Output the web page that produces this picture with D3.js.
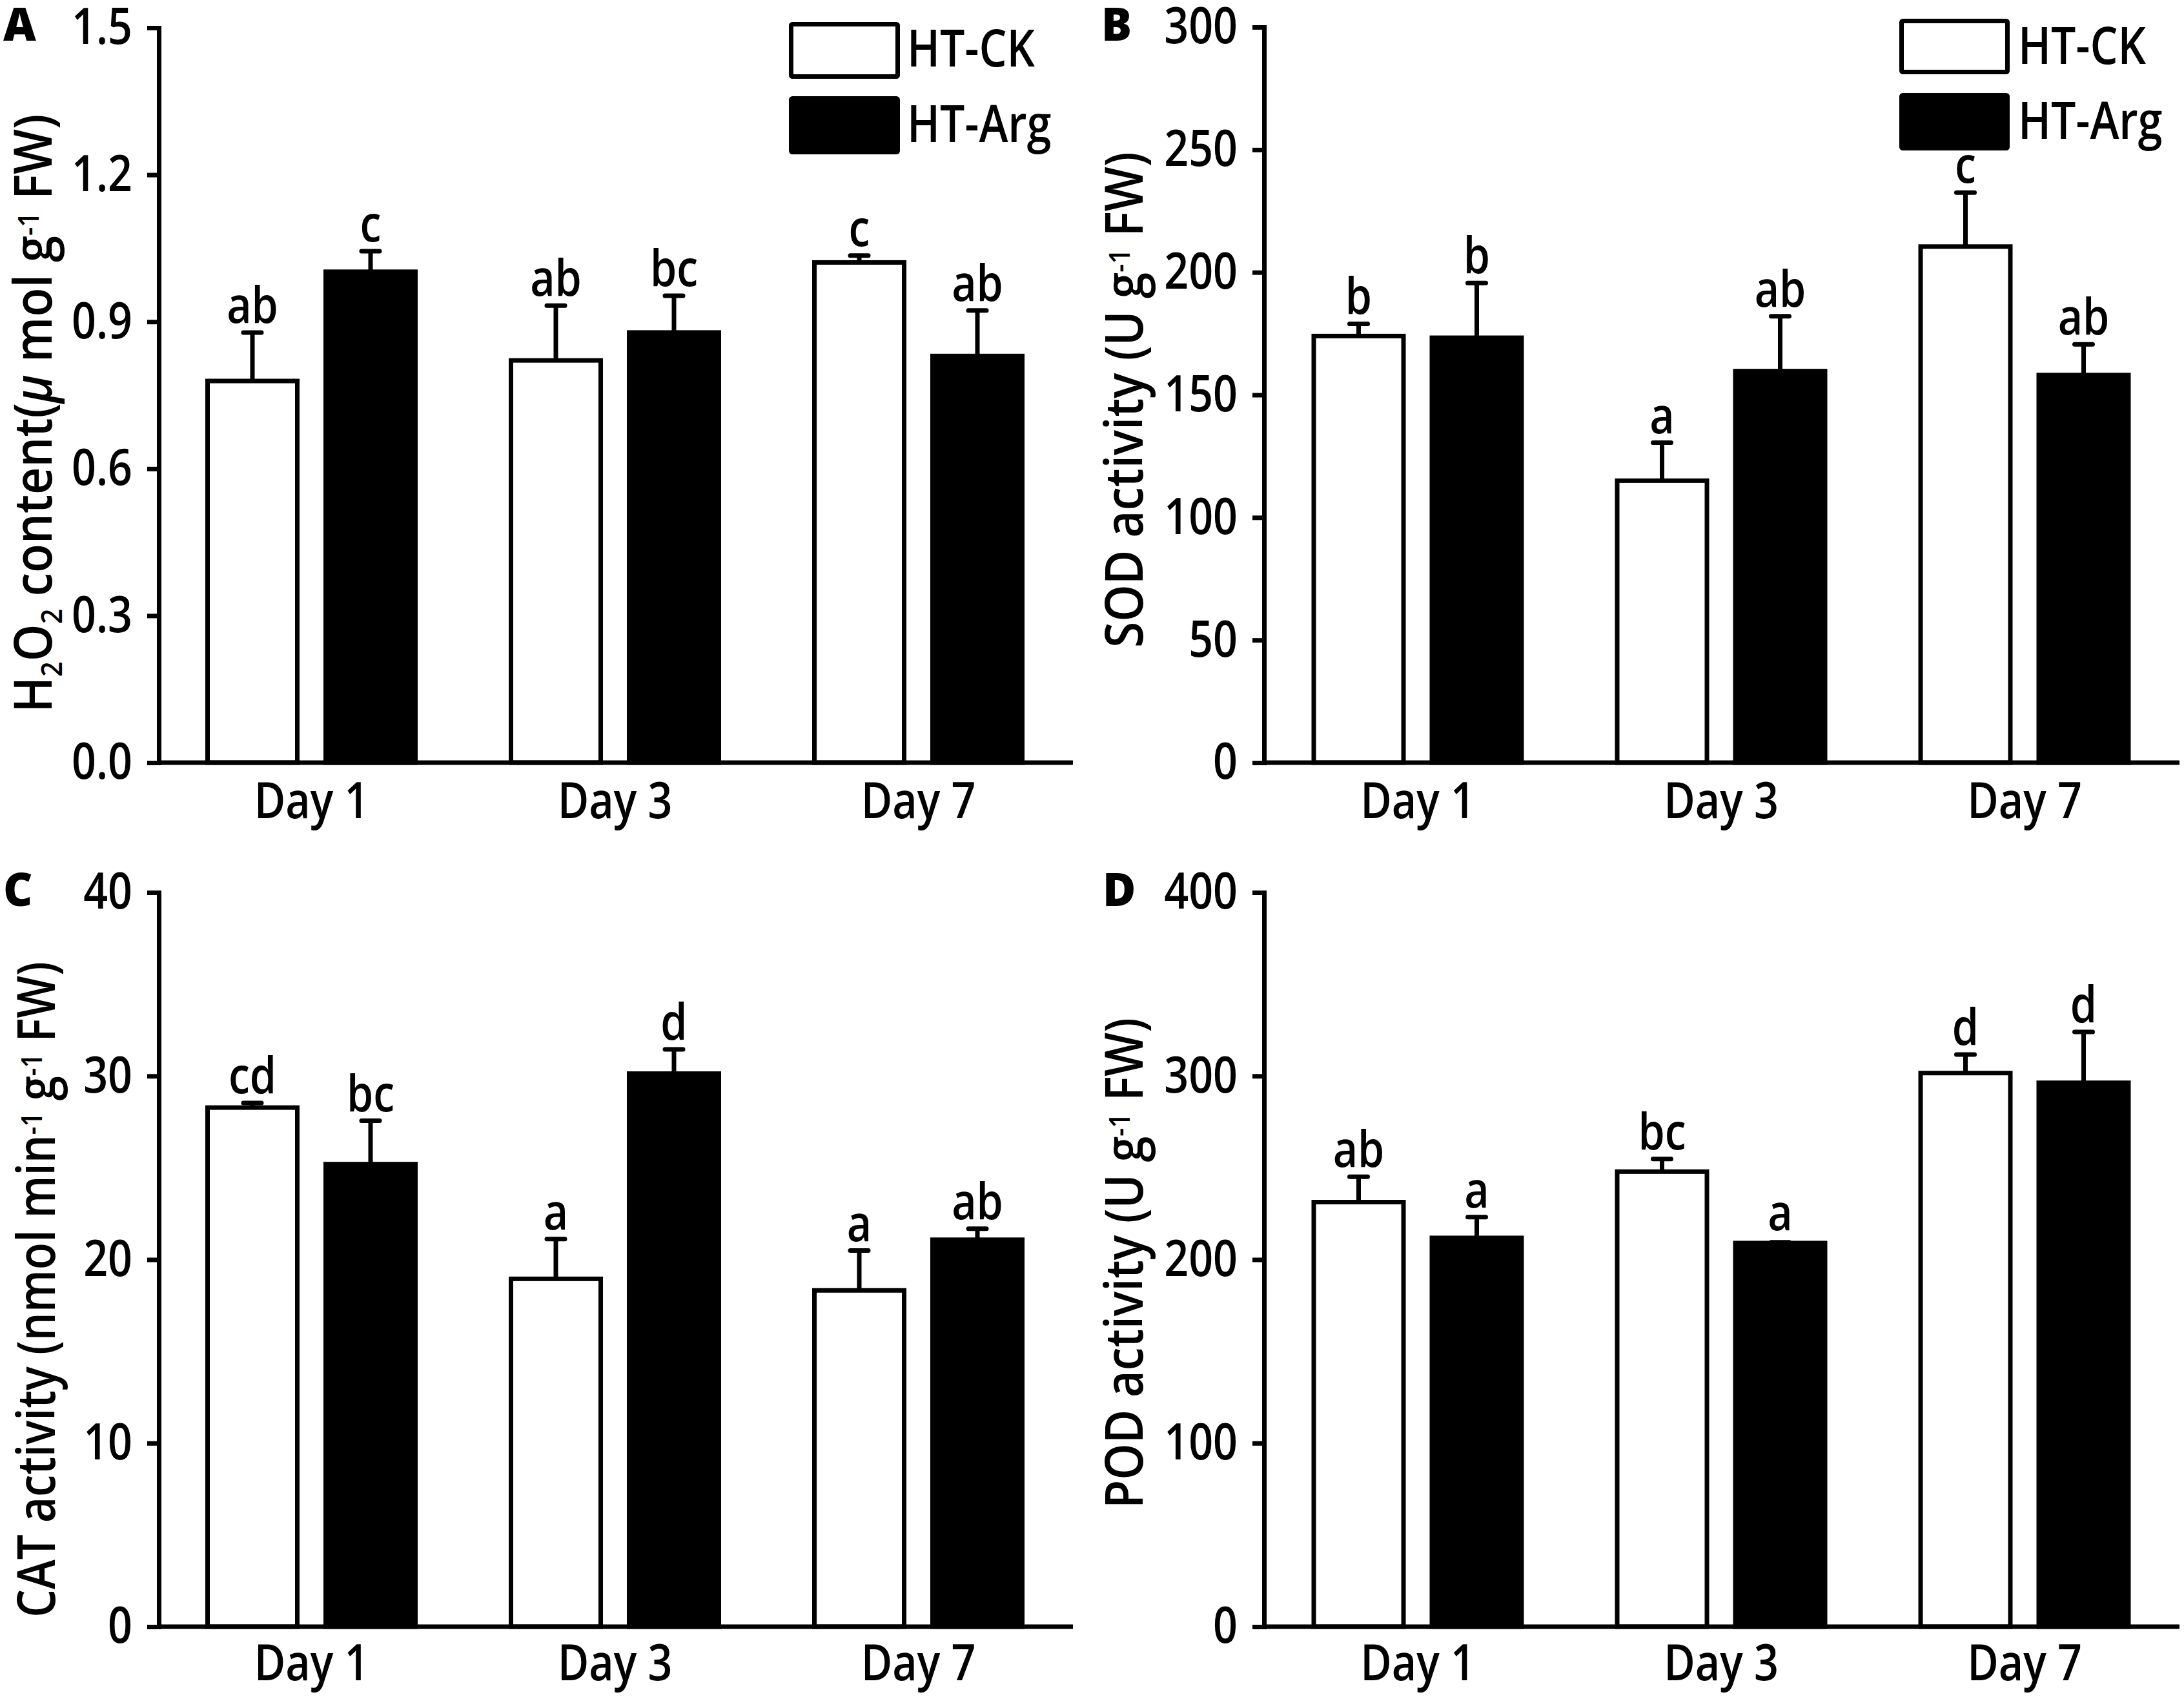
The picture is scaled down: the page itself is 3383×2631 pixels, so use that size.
<!DOCTYPE html>
<html><head><meta charset="utf-8">
<script src="https://cdn.jsdelivr.net/npm/d3@7"></script>
<style>
body{margin:0;background:#fff}
text{font-family:"Open Sans","Noto Sans",sans-serif;fill:#000;font-weight:600}
</style>
</head><body>
<svg id="chart" width="3383" height="2631"></svg>
<script>
// ---------- data ----------
const days = ["Day 1", "Day 3", "Day 7"];
const series = ["HT-CK", "HT-Arg"];

const h2o2CK = [0.779, 0.821, 1.021];
const h2o2CKErr = [0.099, 0.112, 0.014];
const h2o2Arg = [1.002, 0.878, 0.830];
const h2o2ArgErr = [0.042, 0.075, 0.093];
const h2o2CKLetters = ["ab", "ab", "c"];
const h2o2ArgLetters = ["c", "bc", "ab"];
const h2o2Ticks = [0, 0.3, 0.6, 0.9, 1.2, 1.5];
const h2o2TickLabels = ["0.0", "0.3", "0.6", "0.9", "1.2", "1.5"];

const sodCK = [174.0, 115.0, 210.5];
const sodCKErr = [5.0, 15.5, 22.0];
const sodArg = [173.3, 159.7, 158.1];
const sodArgErr = [22.3, 22.4, 12.5];
const sodCKLetters = ["b", "a", "c"];
const sodArgLetters = ["b", "ab", "ab"];
const sodTicks = [0, 50, 100, 150, 200, 250, 300];
const sodTickLabels = ["0", "50", "100", "150", "200", "250", "300"];

const catCK = [28.28, 18.95, 18.32];
const catCKErr = [0.25, 2.17, 2.17];
const catArg = [25.2, 30.13, 21.08];
const catArgErr = [2.36, 1.32, 0.6];
const catCKLetters = ["cd", "a", "a"];
const catArgLetters = ["bc", "d", "ab"];
const catTicks = [0, 10, 20, 30, 40];
const catTickLabels = ["0", "10", "20", "30", "40"];

const podCK = [231.3, 247.9, 301.6];
const podCKErr = [13.8, 6.9, 10.1];
const podArg = [211.8, 209.0, 296.3];
const podArgErr = [11.3, 0.4, 27.7];
const podCKLetters = ["ab", "bc", "d"];
const podArgLetters = ["a", "a", "d"];
const podTicks = [0, 100, 200, 300, 400];
const podTickLabels = ["0", "100", "200", "300", "400"];

const titleA = [["H", ""], ["2", "sub"], ["O", ""], ["2", "sub"], [" content(", ""], ["μ", "it"], [" mol g", ""], ["-1", "sup"], [" FW)", ""]];
const titleB = [["SOD activity (U g", ""], ["-1", "sup"], [" FW)", ""]];
const titleC = [["CAT activity (nmol min", ""], ["-1", "sup"], [" g", ""], ["-1", "sup"], [" FW)", ""]];
const titleD = [["POD activity (U g", ""], ["-1", "sup"], [" FW)", ""]];

// ---------- panels (data + layout) ----------
const panels = [
  {label: "A", ck: h2o2CK, ckErr: h2o2CKErr, arg: h2o2Arg, argErr: h2o2ArgErr, ckLab: h2o2CKLetters, argLab: h2o2ArgLetters,
   domain: [0, 1.5], ticks: h2o2Ticks, tickLabels: h2o2TickLabels, title: titleA,
   L: {x0: 246, x1: 1662, yTop: 43, yBot: 1181, band0: 247.5, xPad: 31,
       lab: [5, 63], tt: [80, 640, 927],
       leg: {x: 1222, w: 172, yW: 34, hW: 88, yB: 149, hB: 90, tx: 1405, b1: 103, b2: 220}}},
  {label: "B", ck: sodCK, ckErr: sodCKErr, arg: sodArg, argErr: sodArgErr, ckLab: sodCKLetters, argLab: sodArgLetters,
   domain: [0, 300], ticks: sodTicks, tickLabels: sodTickLabels, title: titleB,
   L: {x0: 1958, x1: 3376, yTop: 42, yBot: 1181, band0: 1961, xPad: 31,
       lab: [1706, 63], tt: [1770, 619, 768],
       leg: {x: 2942, w: 171, yW: 29, hW: 86, yB: 144, hB: 89, tx: 3126, b1: 99, b2: 215}}},
  {label: "C", ck: catCK, ckErr: catCKErr, arg: catArg, argErr: catArgErr, ckLab: catCKLetters, argLab: catArgLetters,
   domain: [0, 40], ticks: catTicks, tickLabels: catTickLabels, title: titleC,
   L: {x0: 246, x1: 1662, yTop: 1382, yBot: 2519, band0: 247.5, xPad: 28,
       lab: [5, 1403], tt: [85, 1997, 1016], leg: null}},
  {label: "D", ck: podCK, ckErr: podCKErr, arg: podArg, argErr: podArgErr, ckLab: podCKLetters, argLab: podArgLetters,
   domain: [0, 400], ticks: podTicks, tickLabels: podTickLabels, title: titleD,
   L: {x0: 1958, x1: 3376, yTop: 1382, yBot: 2519, band0: 1961, xPad: 28,
       lab: [1708, 1403], tt: [1770, 1956, 760], leg: null}}
];

const SX = 0.85;
const FS = 78;
const svg = d3.select("#chart");

function drawPanel(p) {
  const L = p.L;
  const g = svg.append("g");
  const y = d3.scaleLinear().domain(p.domain).range([L.yBot, L.yTop]);
  const x = d3.scaleBand().domain(days).range([L.band0, L.band0 + 1410]).padding(0);
  const xi = d3.scaleBand().domain(series).range([74, 396]).paddingInner(0.2404).paddingOuter(0);

  const rows = [];
  days.forEach((d, i) => {
    rows.push({day: d, s: series[0], v: p.ck[i], e: p.ckErr[i], lab: p.ckLab[i]});
    rows.push({day: d, s: series[1], v: p.arg[i], e: p.argErr[i], lab: p.argLab[i]});
  });
  const cx = r => x(r.day) + xi(r.s) + xi.bandwidth() / 2;

  // error bars
  g.selectAll("line.err").data(rows).join("line").attr("class", "err")
    .attr("x1", cx).attr("x2", cx)
    .attr("y1", r => y(r.v)).attr("y2", r => y(r.v + r.e))
    .attr("stroke", "#000").attr("stroke-width", 7);
  g.selectAll("line.cap").data(rows).join("line").attr("class", "cap")
    .attr("x1", r => cx(r) - 14).attr("x2", r => cx(r) + 14)
    .attr("y1", r => y(r.v + r.e)).attr("y2", r => y(r.v + r.e))
    .attr("stroke", "#000").attr("stroke-width", 7).attr("stroke-linecap", "round");

  // bars
  g.selectAll("rect.bar").data(rows).join("rect").attr("class", "bar")
    .attr("x", r => x(r.day) + xi(r.s)).attr("width", xi.bandwidth())
    .attr("y", r => y(r.v)).attr("height", r => y(0) - y(r.v))
    .attr("fill", r => r.s === "HT-CK" ? "#fff" : "#000")
    .attr("stroke", "#000").attr("stroke-width", 7);

  // significance letters
  g.selectAll("text.sig").data(rows).join("text").attr("class", "sig")
    .attr("transform", r => `translate(${cx(r)},${Math.min(y(r.v + r.e), y(r.v) - 5) - 15}) scale(${SX},1)`)
    .attr("text-anchor", "middle").attr("font-size", FS).text(r => r.lab);

  // y axis
  const ya = d3.axisLeft(y).tickValues(p.ticks).tickFormat((d, i) => p.tickLabels[i])
    .tickSize(18).tickPadding(23).tickSizeOuter(0);
  const yg = g.append("g").attr("transform", `translate(${L.x0},0)`).call(ya);
  yg.attr("font-size", FS).attr("font-family", null);
  yg.select(".domain").attr("stroke-width", 7).attr("stroke-linecap", "square");
  yg.selectAll(".tick line").attr("stroke-width", 7);
  yg.selectAll(".tick text").each(function () {
    const t = d3.select(this);
    const xx = +t.attr("x");
    t.attr("x", 0).attr("transform", `translate(${xx},0) scale(${SX},1)`);
  });

  // x axis line + labels
  g.append("line").attr("x1", L.x0).attr("x2", L.x1).attr("y1", y(0)).attr("y2", y(0))
    .attr("stroke", "#000").attr("stroke-width", 7);
  const xa = d3.axisBottom(x).tickSize(0).tickPadding(L.xPad);
  const xg = g.append("g").attr("transform", `translate(0,${y(0)})`).call(xa);
  xg.select(".domain").remove();
  xg.attr("font-size", FS).attr("font-family", null);
  xg.selectAll(".tick text").attr("transform", `scale(${SX},1)`);

  // y title
  const tt = g.append("text").attr("text-anchor", "middle").attr("font-size", 82);
  let cur = 0;
  p.title.forEach(([s, k]) => {
    const ts = tt.append("tspan").text(s);
    let target = 0;
    if (k === "sub") { target = 16; ts.attr("font-size", 46); }
    else if (k === "sup") { target = -20; ts.attr("font-size", 46); }
    else if (k === "it") { ts.attr("font-style", "italic"); }
    ts.attr("dy", target - cur);
    cur = target;
  });
  const nat = tt.node().getComputedTextLength();
  const sc = L.tt[2] / nat;
  tt.attr("transform", `translate(${L.tt[0]},${L.tt[1]}) rotate(-90) scale(${sc},1)`);

  // panel label
  g.append("text").attr("x", L.lab[0]).attr("y", L.lab[1])
    .attr("font-size", 70).style("font-weight", "800").text(p.label);

  // legend
  if (L.leg) {
    const lg = L.leg;
    const items = [
      {s: series[0], y: lg.yW, h: lg.hW, fill: "#fff", b: lg.b1},
      {s: series[1], y: lg.yB, h: lg.hB, fill: "#000", b: lg.b2}
    ];
    g.selectAll("rect.leg").data(items).join("rect").attr("class", "leg")
      .attr("x", lg.x + 3.5).attr("y", d => d.y + 3.5)
      .attr("width", lg.w - 7).attr("height", d => d.h - 7)
      .attr("rx", 2).attr("fill", d => d.fill).attr("stroke", "#000").attr("stroke-width", 7);
    g.selectAll("text.leg").data(items).join("text").attr("class", "leg")
      .attr("transform", d => `translate(${lg.tx},${d.b}) scale(${SX},1)`)
      .attr("font-size", 80).text(d => d.s);
  }
}

panels.forEach(drawPanel);
</script>
</body></html>
